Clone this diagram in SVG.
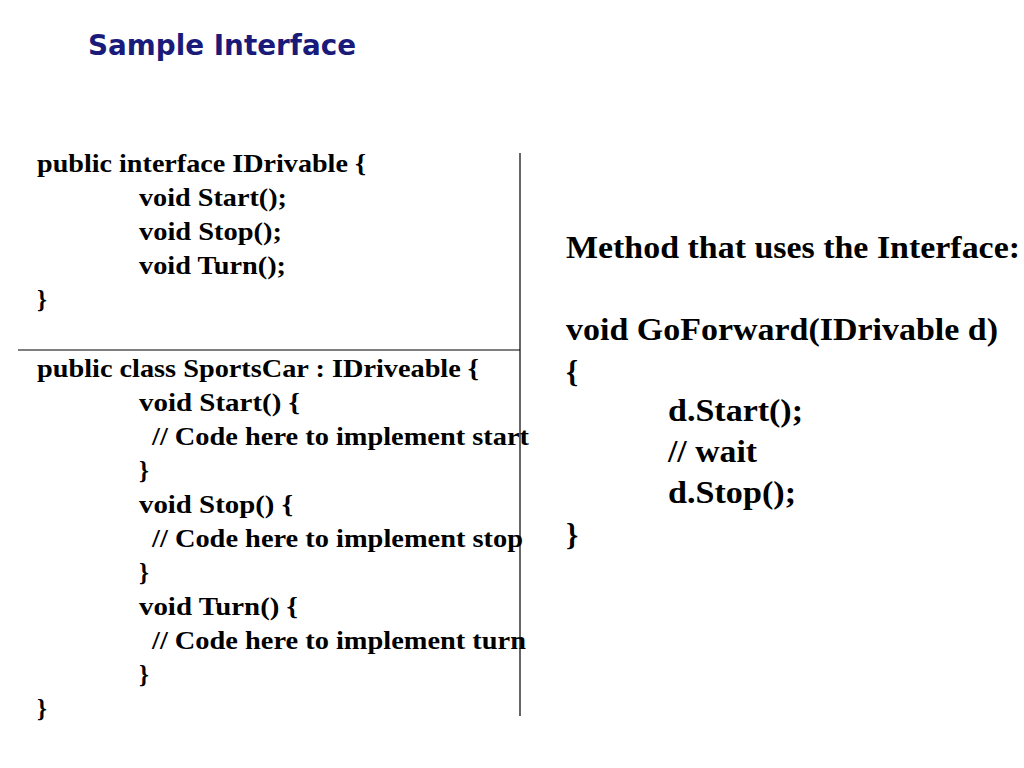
<svg xmlns="http://www.w3.org/2000/svg" width="1024" height="768" viewBox="0 0 1024 768">
<style>
.t{font-family:"DejaVu Sans",sans-serif;font-weight:bold;font-size:29px;fill:#1a1a7a}
.l{font-family:"Liberation Serif",serif;font-weight:bold;font-size:25px;fill:#000}
.r{font-family:"Liberation Serif",serif;font-weight:bold;font-size:31px;fill:#000}
.ln{stroke:#000;stroke-width:1.2}
</style>
<rect width="1024" height="768" fill="#fff"/>
<text class="t" x="88" y="55" textLength="268" lengthAdjust="spacingAndGlyphs">Sample Interface</text>
<g id="lines">
<line class="ln" x1="520" y1="153" x2="520" y2="716"/>
<line class="ln" x1="18" y1="350" x2="520" y2="350"/>
</g>
<g id="left" lengthAdjust="spacingAndGlyphs">
<text class="l" x="37" y="172" textLength="329" lengthAdjust="spacingAndGlyphs">public interface IDrivable {</text>
<text class="l" x="139" y="206" textLength="148" lengthAdjust="spacingAndGlyphs">void Start();</text>
<text class="l" x="139" y="240" textLength="143" lengthAdjust="spacingAndGlyphs">void Stop();</text>
<text class="l" x="139" y="274" textLength="147" lengthAdjust="spacingAndGlyphs">void Turn();</text>
<text class="l" x="37" y="308">}</text>
<text class="l" x="37" y="377" textLength="442" lengthAdjust="spacingAndGlyphs">public class SportsCar : IDriveable {</text>
<text class="l" x="139" y="411" textLength="161" lengthAdjust="spacingAndGlyphs">void Start() {</text>
<text class="l" x="152" y="445" textLength="377" lengthAdjust="spacingAndGlyphs">// Code here to implement start</text>
<text class="l" x="139" y="479">}</text>
<text class="l" x="139" y="513" textLength="154" lengthAdjust="spacingAndGlyphs">void Stop() {</text>
<text class="l" x="152" y="547" textLength="371" lengthAdjust="spacingAndGlyphs">// Code here to implement stop</text>
<text class="l" x="139" y="581">}</text>
<text class="l" x="139" y="615" textLength="159" lengthAdjust="spacingAndGlyphs">void Turn() {</text>
<text class="l" x="152" y="649" textLength="374" lengthAdjust="spacingAndGlyphs">// Code here to implement turn</text>
<text class="l" x="139" y="683">}</text>
<text class="l" x="37" y="717">}</text>
</g>
<g id="right">
<text class="r" x="566" y="258" textLength="454" lengthAdjust="spacingAndGlyphs">Method that uses the Interface:</text>
<text class="r" x="566" y="340" textLength="432" lengthAdjust="spacingAndGlyphs">void GoForward(IDrivable d)</text>
<text class="r" x="566" y="382">{</text>
<text class="r" x="668" y="421" textLength="135" lengthAdjust="spacingAndGlyphs">d.Start();</text>
<text class="r" x="668" y="462" textLength="89" lengthAdjust="spacingAndGlyphs">// wait</text>
<text class="r" x="668" y="503" textLength="128" lengthAdjust="spacingAndGlyphs">d.Stop();</text>
<text class="r" x="566" y="545">}</text>
</g>
</svg>
